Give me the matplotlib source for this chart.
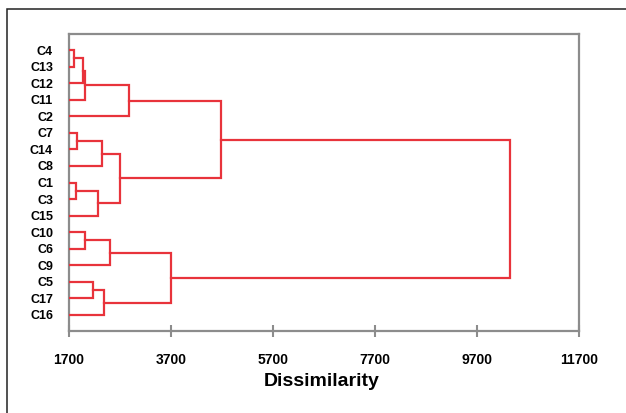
import matplotlib.pyplot as plt
from matplotlib.patches import Rectangle

plt.rcParams['font.family'] = ['Liberation Sans', 'DejaVu Sans']

# leaf order, top to bottom
leaves = ['C4', 'C13', 'C12', 'C11', 'C2', 'C7', 'C14', 'C8', 'C1', 'C3',
          'C15', 'C10', 'C6', 'C9', 'C5', 'C17', 'C16']

# merge steps: node Mi joins merge_a[i] and merge_b[i] at merge_h[i]
merge_a = ['C4', 'M0', 'M1', 'M2', 'C7', 'M4', 'C1', 'M6', 'M5', 'M3',
           'C10', 'M10', 'C5', 'M12', 'M11', 'M9']
merge_b = ['C13', 'C12', 'C11', 'C2', 'C14', 'C8', 'C3', 'C15', 'M7', 'M8',
           'C6', 'C9', 'C17', 'C16', 'M13', 'M14']
merge_h = [1800, 1980, 2015, 2880, 1865, 2350, 1830, 2275, 2700, 4680,
           2015, 2510, 2165, 2385, 3700, 10350]

xticks = [1700, 3700, 5700, 7700, 9700, 11700]

fig = plt.figure(figsize=(6.26, 4.13), dpi=100)
ax = fig.add_axes([69 / 626, 82 / 413, 510 / 626, 297 / 413])

red = '#e8333b'
pos = {name: (xticks[0], i) for i, name in enumerate(leaves)}
for i, (a, b, h) in enumerate(zip(merge_a, merge_b, merge_h)):
    xa, ya = pos[a]
    xb, yb = pos[b]
    ax.plot([xa, h, h, xb], [ya, ya, yb, yb], color=red, lw=1.6,
            solid_joinstyle='miter', zorder=3)
    pos['M%d' % i] = (h, (ya + yb) / 2)

ax.set_xlim(xticks[0], xticks[-1])
ax.set_ylim(len(leaves) - 1 + 0.97, -0.97)
ax.set_xticks(xticks)
ax.set_xticklabels([str(t) for t in xticks], fontsize=10, fontweight='bold')
ax.set_yticks(range(len(leaves)))
ax.set_yticklabels(leaves, fontsize=9, fontweight='bold')
ax.tick_params(axis='y', length=0, pad=11.5)
ax.tick_params(axis='x', direction='inout', length=8, width=1.5,
               color='#8c8c8c', pad=12)
for s in ax.spines.values():
    s.set_color('#8c8c8c')
    s.set_linewidth(1.6)
ax.set_xlabel('Dissimilarity', fontsize=14, fontweight='bold')
ax.xaxis.set_label_coords(0.495, -0.14)

# outer frame around the chart
fig.patches.append(Rectangle((7 / 626, -0.2), 2, 1.2 - 9 / 413,
                             transform=fig.transFigure, fill=False,
                             edgecolor='#222222', lw=1.1))

fig.savefig('out.png', dpi=100)
